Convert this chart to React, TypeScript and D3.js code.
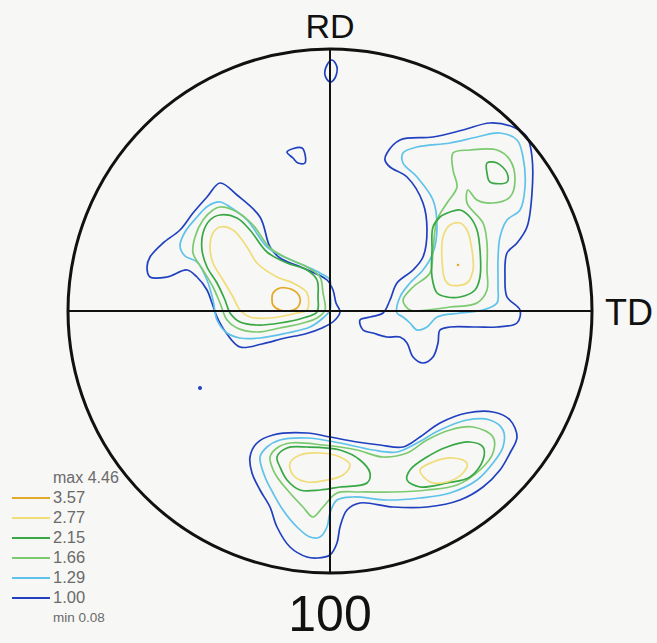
import { useMemo } from 'react';
import * as d3 from 'd3';

type Pt = [number, number];

// pole figure coords: circle radius = 262 units, x -> TD, y -> RD
const levels = ['3.57', '2.77', '2.15', '1.66', '1.29', '1.00'];
const levelColors = ['#e3a928', '#f0dc78', '#38a844', '#7cca70', '#5ec2ea', '#2040c0'];
const maxLabel = 'max 4.46';
const minLabel = 'min 0.08';

// left cluster
const left100: Pt[] = [[-110,128],[-93,116],[-70,94],[-60,64],[-50,53],[-27,43],[-3,31],[3,21],[6,8],[10,-1],[4,-10],[-8,-17],[-25,-23],[-45,-27],[-68,-33],[-90,-36],[-103,-23],[-113,-6],[-118,8],[-123,21],[-133,34],[-143,41],[-163,34],[-180,34],[-183,44],[-180,54],[-167,68],[-150,81],[-137,98],[-123,114]];
const left129: Pt[] = [[-110,109],[-100,104],[-83,91],[-63,64],[-50,56],[-27,46],[-10,38],[0,31],[0,21],[0,1],[-7,-7],[-20,-16],[-43,-22],[-70,-27],[-90,-27],[-103,-22],[-113,-9],[-117,11],[-123,31],[-133,49],[-145,55],[-150,65],[-145,79],[-133,94],[-122,105]];
const left166: Pt[] = [[-110,104],[-93,99],[-77,86],[-60,63],[-43,53],[-23,44],[-10,34],[-7,18],[-5,1],[-13,-7],[-27,-12],[-50,-17],[-73,-21],[-93,-17],[-103,-9],[-110,8],[-117,24],[-127,41],[-137,58],[-135,74],[-127,91],[-117,101]];
const left215: Pt[] = [[-110,96],[-93,93],[-80,81],[-63,59],[-43,48],[-23,41],[-13,31],[-12,14],[-13,-1],[-27,-7],[-50,-12],[-73,-14],[-90,-11],[-100,-2],[-105,11],[-113,28],[-123,44],[-128,61],[-127,78],[-120,91]];
const left277: Pt[] = [[-110,84],[-97,81],[-83,64],[-73,48],[-53,34],[-37,28],[-23,18],[-23,1],[-33,-2],[-60,-7],[-80,-6],[-90,1],[-97,14],[-107,31],[-117,48],[-120,64],[-117,78]];
const left357: Pt[] = [[-57,18],[-50,23],[-37,21],[-30,13],[-32,4],[-37,1],[-50,1],[-57,6],[-58,13]];

// upper right cluster
const right100: Pt[] = [[57,158],[70,171],[103,174],[133,181],[160,188],[183,184],[197,174],[202,154],[202,118],[197,84],[187,68],[177,58],[175,34],[177,14],[190,1],[187,-12],[167,-16],[147,-16],[120,-16],[110,-19],[108,-32],[103,-46],[93,-52],[83,-46],[77,-32],[70,-26],[57,-26],[43,-22],[33,-19],[30,-9],[40,-6],[53,-2],[60,11],[67,28],[83,41],[93,54],[97,81],[93,108],[77,134],[60,144],[55,151]];
const right129: Pt[] = [[73,158],[87,164],[120,168],[147,174],[170,178],[187,171],[193,154],[195,124],[190,101],[177,91],[170,74],[168,51],[168,24],[167,8],[153,1],[130,-2],[107,-6],[97,-16],[87,-19],[80,-12],[73,-6],[67,-2],[70,14],[80,28],[93,41],[103,58],[107,84],[103,111],[87,134],[73,148]];
const right166: Pt[] = [[123,158],[140,161],[167,161],[180,151],[185,131],[180,114],[163,108],[147,111],[138,121],[137,108],[153,88],[157,68],[157,41],[157,21],[147,8],[120,4],[97,1],[80,1],[73,11],[83,24],[100,38],[103,61],[107,91],[117,108],[127,124],[123,141]];
const right215a: Pt[] = [[157,148],[167,148],[177,138],[177,129],[160,129],[157,138]];
const right215b: Pt[] = [[120,99],[130,101],[140,94],[147,81],[150,61],[150,34],[145,21],[130,14],[117,14],[107,18],[102,34],[102,61],[103,84],[110,94]];
const right277: Pt[] = [[120,86],[130,88],[137,81],[142,61],[143,41],[137,28],[120,26],[115,31],[112,51],[113,74]];
const rightPeak: Pt = [128, 46];

// bottom cluster
const bottom100: Pt[] = [[-80,-146],[-73,-132],[-57,-124],[-23,-122],[0,-126],[27,-131],[50,-134],[73,-136],[90,-126],[110,-112],[137,-102],[163,-101],[180,-109],[187,-126],[180,-142],[170,-159],[153,-176],[130,-189],[97,-196],[63,-196],[30,-192],[17,-199],[10,-216],[7,-232],[0,-244],[-13,-247],[-23,-246],[-40,-236],[-53,-216],[-60,-196],[-70,-179],[-78,-162]];
const bottom129: Pt[] = [[-70,-146],[-63,-136],[-50,-129],[-23,-127],[10,-132],[43,-139],[67,-141],[87,-132],[110,-119],[137,-109],[160,-109],[173,-119],[173,-136],[163,-152],[147,-169],[120,-182],[90,-187],[57,-189],[23,-186],[7,-189],[0,-202],[-3,-216],[-10,-226],[-20,-226],[-33,-216],[-47,-199],[-57,-182],[-65,-166]];
const bottom166: Pt[] = [[-60,-146],[-53,-137],[-40,-132],[-7,-134],[27,-139],[53,-146],[77,-142],[97,-129],[120,-119],[143,-116],[163,-126],[163,-142],[150,-159],[127,-174],[97,-179],[63,-181],[30,-181],[7,-182],[-7,-196],[-17,-206],[-27,-196],[-40,-182],[-53,-166],[-58,-156]];
const bottom215a: Pt[] = [[-53,-146],[-43,-137],[-23,-136],[10,-139],[30,-149],[40,-162],[37,-172],[10,-176],[-10,-179],[-30,-179],[-43,-169],[-50,-156]];
const bottom215b: Pt[] = [[80,-159],[97,-146],[117,-136],[140,-131],[153,-136],[153,-149],[140,-166],[117,-172],[90,-176],[77,-169]];
const bottom277a: Pt[] = [[-40,-152],[-30,-144],[-10,-142],[10,-146],[20,-154],[13,-164],[-3,-169],[-23,-171],[-37,-164]];
const bottom277b: Pt[] = [[90,-159],[103,-151],[123,-147],[137,-152],[133,-162],[117,-171],[100,-171]];

// small isolated islands at level 1.00
const islandTri: Pt[] = [[-43,159],[-28,163],[-25,148],[-32,148],[-37,153]];
const islandTop: Pt[] = [[-3,246],[2,251],[7,244],[5,233],[0,229],[-5,236]];
const islandDot: Pt = [-130, -77];

const contours: { level: string; pts: Pt[] }[] = [
  { level: '1.00', pts: left100 }, { level: '1.29', pts: left129 }, { level: '1.66', pts: left166 },
  { level: '2.15', pts: left215 }, { level: '2.77', pts: left277 }, { level: '3.57', pts: left357 },
  { level: '1.00', pts: right100 }, { level: '1.29', pts: right129 }, { level: '1.66', pts: right166 },
  { level: '2.15', pts: right215a }, { level: '2.15', pts: right215b }, { level: '2.77', pts: right277 },
  { level: '1.00', pts: bottom100 }, { level: '1.29', pts: bottom129 }, { level: '1.66', pts: bottom166 },
  { level: '2.15', pts: bottom215a }, { level: '2.15', pts: bottom215b },
  { level: '2.77', pts: bottom277a }, { level: '2.77', pts: bottom277b },
  { level: '1.00', pts: islandTri }, { level: '1.00', pts: islandTop },
];

export default function App() {
  const width = 657;
  const height = 643;
  const cx = 330;
  const cy = 311;
  const R = 262;

  const x = d3.scaleLinear().domain([-R, R]).range([cx - R, cx + R]);
  const y = d3.scaleLinear().domain([-R, R]).range([cy + R, cy - R]);
  const color = d3.scaleOrdinal<string, string>().domain(levels).range(levelColors);

  const line = useMemo(
    () =>
      d3
        .line<Pt>()
        .x((d) => x(d[0]))
        .y((d) => y(d[1]))
        .curve(d3.curveCatmullRomClosed.alpha(0.5)),
    []
  );

  const font = '"Liberation Sans", Arial, sans-serif';

  return (
    <svg
      width={width}
      height={height}
      style={{ position: 'absolute', left: 0, top: 0, background: '#f7f7f5' }}
    >
      <rect width={width} height={height} fill="#f7f7f5" />

      {contours.map((c, i) => (
        <path
          key={i}
          d={line(c.pts) ?? ''}
          fill="none"
          stroke={color(c.level)}
          strokeWidth={1.7}
          strokeLinejoin="round"
        />
      ))}
      <circle cx={x(rightPeak[0])} cy={y(rightPeak[1])} r={1.3} fill={color('3.57')} />
      <circle cx={x(islandDot[0])} cy={y(islandDot[1])} r={2} fill={color('1.00')} />

      {/* axes */}
      <line x1={x(-R)} x2={x(R)} y1={y(0)} y2={y(0)} stroke="#111" strokeWidth={2} />
      <line x1={x(0)} x2={x(0)} y1={y(R)} y2={y(-R)} stroke="#111" strokeWidth={2} />
      <circle cx={x(0)} cy={y(0)} r={R} fill="none" stroke="#111" strokeWidth={3} />

      <text x={x(0)} y={38} textAnchor="middle" fontFamily={font} fontSize={34} fill="#111">
        RD
      </text>
      <text x={605} y={325} fontFamily={font} fontSize={36} fill="#111">
        TD
      </text>
      <text x={x(0)} y={631} textAnchor="middle" fontFamily={font} fontSize={50} fill="#111">
        100
      </text>

      {/* legend */}
      <g fontFamily={font} fill="#6a6a6a">
        <text x={53} y={479} dominantBaseline="middle" fontSize={16}>
          {maxLabel}
        </text>
        {levels.map((lv, i) => (
          <g key={lv} transform={`translate(0, ${498 + i * 20})`}>
            <line x1={12} x2={50} y1={0} y2={0} stroke={color(lv)} strokeWidth={2} />
            <text x={53} y={1} dominantBaseline="middle" fontSize={16.5}>
              {lv}
            </text>
          </g>
        ))}
        <text x={53} y={618} dominantBaseline="middle" fontSize={13.5}>
          {minLabel}
        </text>
      </g>
    </svg>
  );
}
